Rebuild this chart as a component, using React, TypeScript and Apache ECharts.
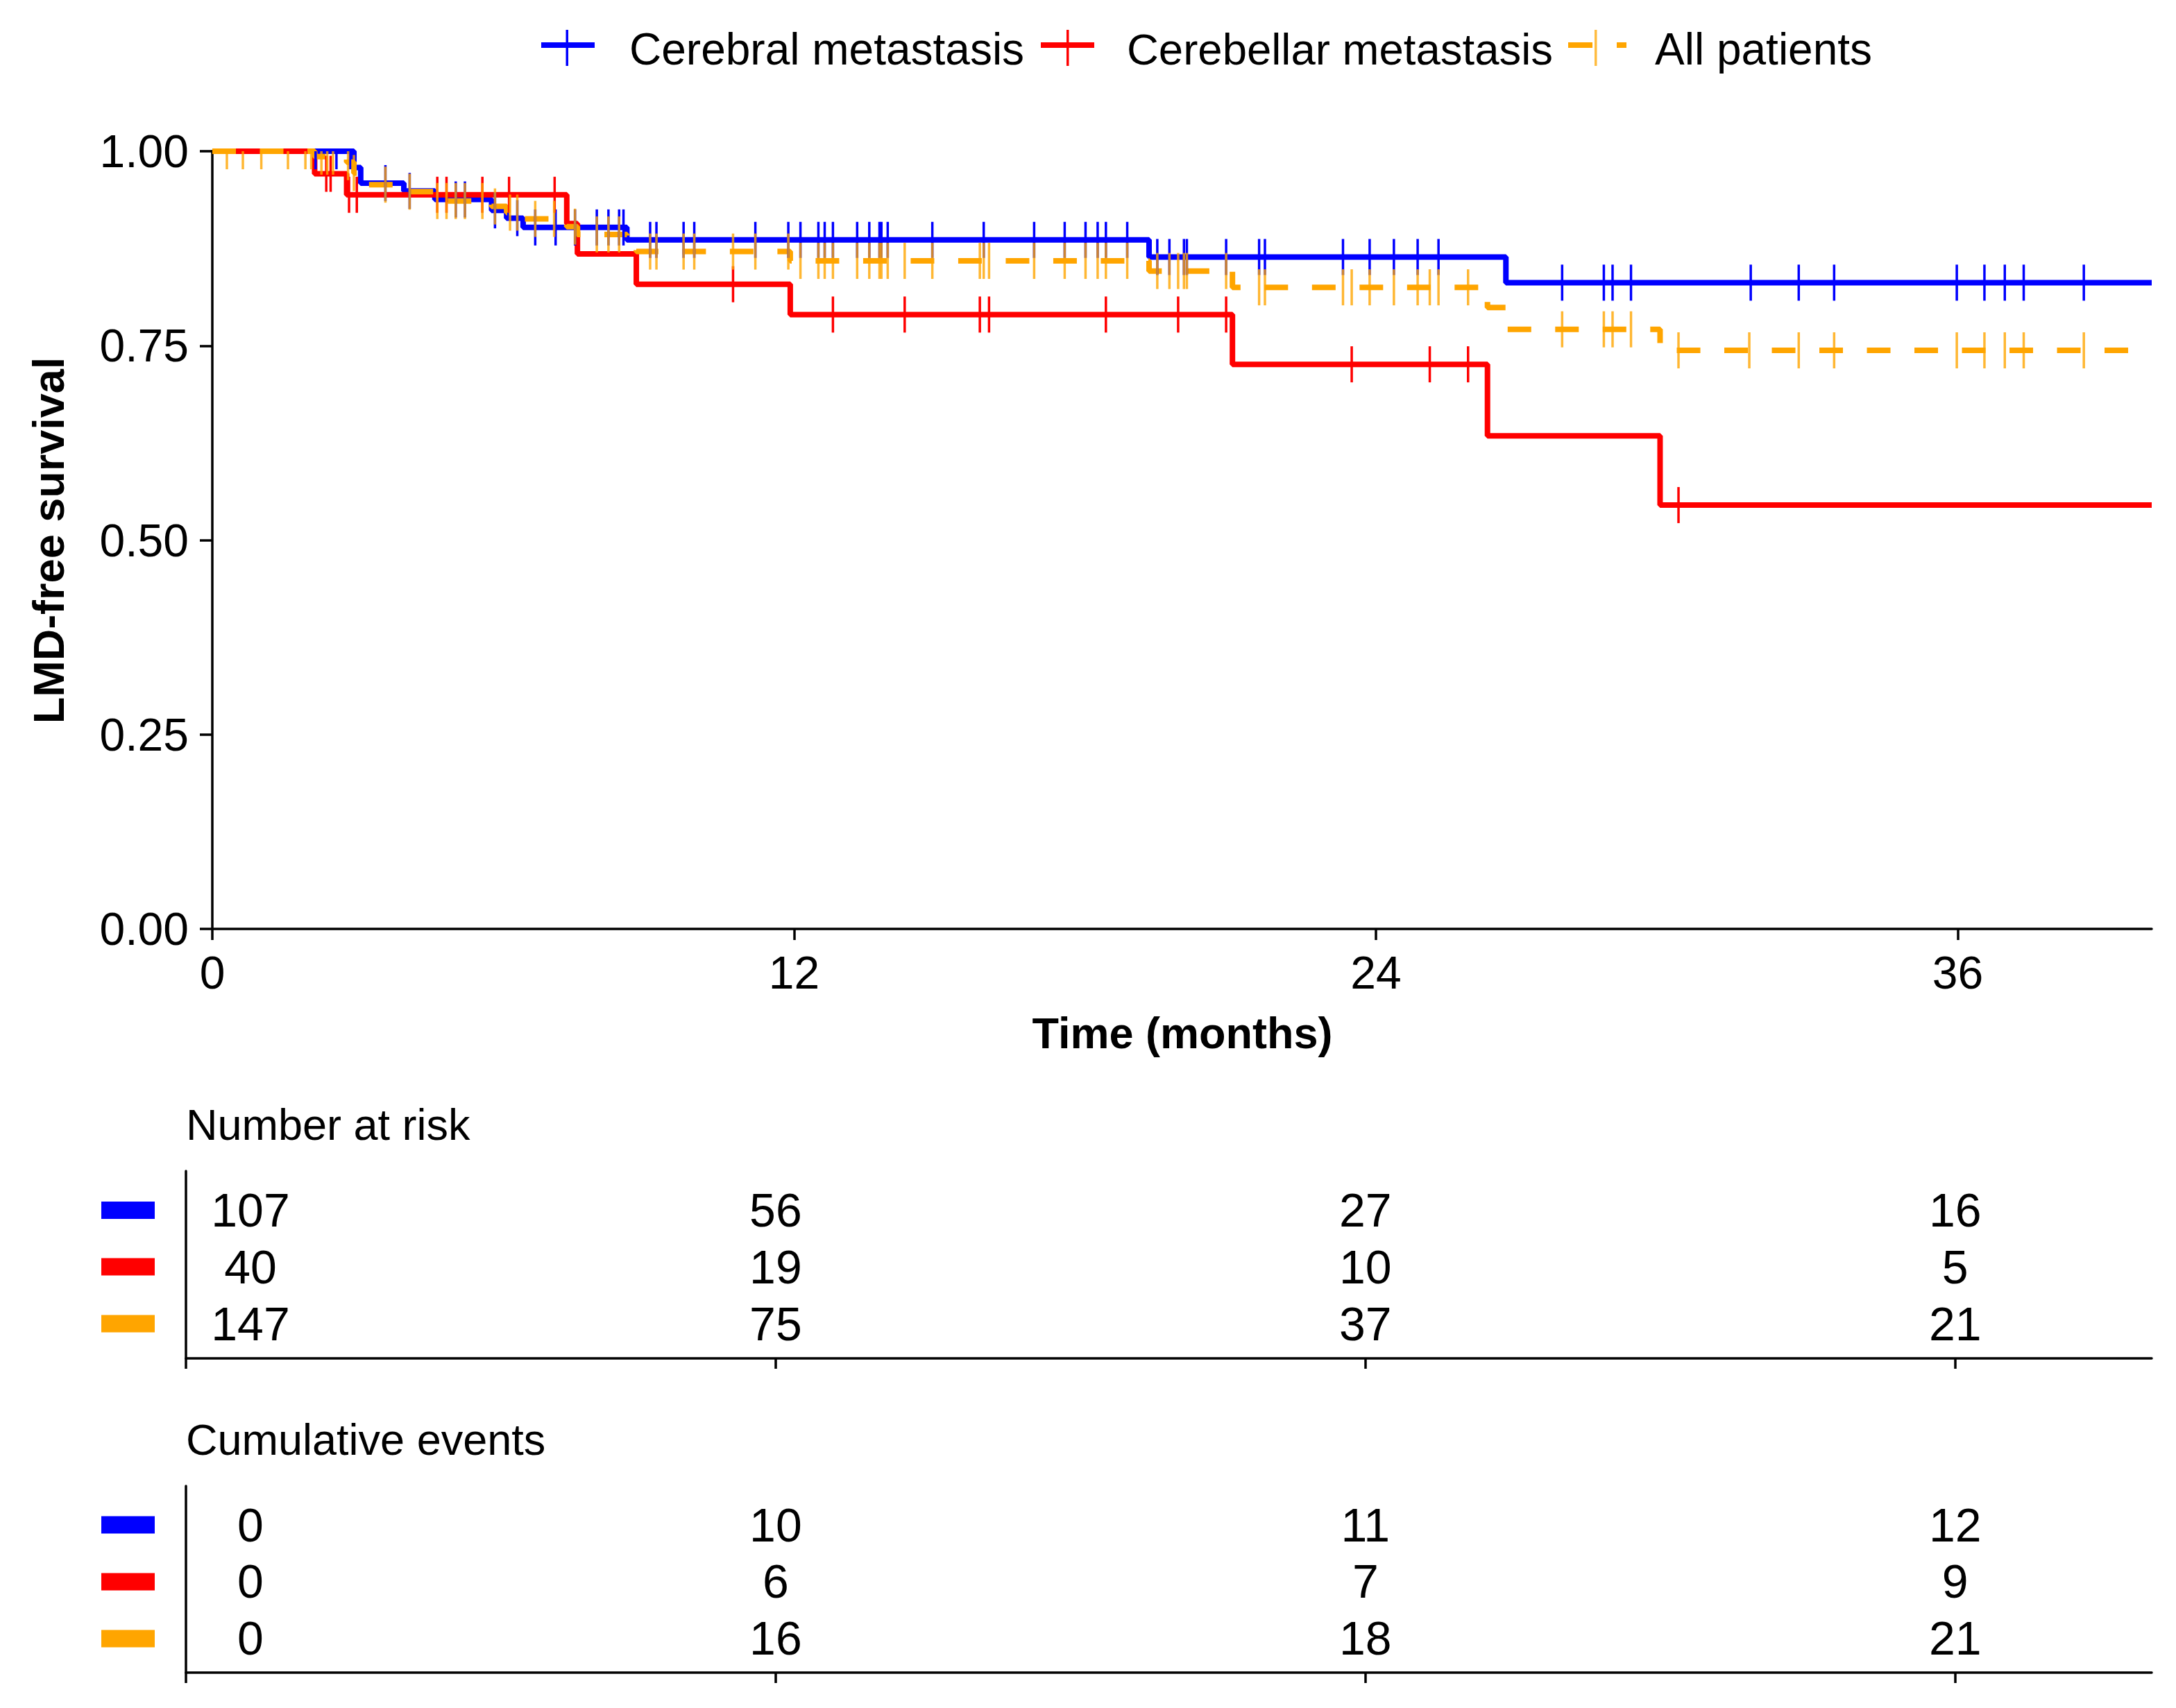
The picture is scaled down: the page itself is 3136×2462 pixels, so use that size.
import React, { useEffect, useRef } from 'react';
import * as echarts from 'echarts';

// ---------- data ----------
const xTickValues = [0, 12, 24, 36];

// Kaplan-Meier step points (time in months, survival)
const cerebralTimes = [0, 2.92, 3.06, 3.95, 4.59, 5.76, 6.07, 6.41, 8.55, 19.32, 26.68, 40];
const cerebralSurv = [1, 0.979, 0.959, 0.949, 0.938, 0.924, 0.914, 0.902, 0.886, 0.864, 0.831, 0.831];

const cerebellarTimes = [0, 2.11, 2.77, 7.31, 7.53, 8.745, 11.92, 21.04, 26.3, 29.86, 40];
const cerebellarSurv = [1, 0.971, 0.944, 0.907, 0.868, 0.829, 0.79, 0.726, 0.634, 0.545, 0.545];

const allTimes = [0, 2.11, 2.77, 2.92, 3.06, 3.95, 4.59, 5.76, 6.07, 6.41, 7.31, 7.53, 8.55, 8.745, 11.92, 19.32, 21.04, 26.3, 26.68, 29.86, 40];
const allSurv = [1, 0.993, 0.986, 0.972, 0.957, 0.948, 0.936, 0.929, 0.921, 0.913, 0.903, 0.893, 0.88, 0.871, 0.859, 0.846, 0.825, 0.799, 0.771, 0.744, 0.744];

// censoring times
const cerebralCensor = [2.13, 2.56, 2.84, 3.57, 4.07, 5.02, 5.21, 5.83, 6.29, 6.66, 7.08, 7.48, 7.93, 8.17, 8.39, 8.48, 9.03, 9.16, 9.72, 9.94, 11.2, 11.88, 12.13, 12.5, 12.63, 12.8, 13.3, 13.55, 13.76, 13.8, 13.93, 14.85, 15.91, 16.95, 17.58, 18.01, 18.26, 18.43, 18.87, 19.49, 19.74, 20.04, 20.1, 20.91, 21.59, 21.71, 23.32, 23.87, 24.37, 24.86, 25.29, 27.84, 28.7, 28.88, 29.26, 31.73, 32.72, 33.45, 35.98, 36.55, 36.97, 37.36, 38.6];
const cerebellarCensor = [2.35, 2.44, 2.82, 2.98, 4.64, 4.83, 5.57, 6.12, 7.06, 10.74, 12.8, 14.28, 15.83, 16.02, 18.43, 19.92, 20.91, 23.5, 25.11, 25.9, 30.24];
const allCensor = [0.3, 0.63, 1.01, 1.56, 1.92, 2.04, 2.25, 2.37, 2.49, 2.8, 2.92, 3.57, 4.07, 4.64, 4.83, 5.02, 5.21, 5.57, 5.83, 6.14, 6.29, 6.66, 7.05, 7.48, 7.93, 8.17, 8.39, 9.03, 9.16, 9.72, 9.94, 10.74, 11.2, 11.88, 12.13, 12.5, 12.63, 12.8, 13.3, 13.55, 13.76, 13.8, 13.93, 14.28, 14.85, 15.83, 15.91, 16.02, 16.95, 17.58, 18.01, 18.26, 18.43, 18.87, 19.49, 19.74, 19.92, 20.04, 20.1, 20.91, 21.59, 21.71, 23.32, 23.5, 23.87, 24.37, 24.86, 25.11, 25.29, 25.9, 27.84, 28.7, 28.88, 29.26, 30.24, 31.7, 32.72, 33.45, 35.98, 36.55, 36.97, 37.36, 38.6];

// risk table
const tableTimes = [0, 12, 24, 36];
const atRiskCerebral = [107, 56, 27, 16];
const atRiskCerebellar = [40, 19, 10, 5];
const atRiskAll = [147, 75, 37, 21];
const eventsCerebral = [0, 10, 11, 12];
const eventsCerebellar = [0, 6, 7, 9];
const eventsAll = [0, 16, 18, 21];

const groupNames = ['Cerebral metastasis', 'Cerebellar metastasis', 'All patients'];
const BLUE = '#0000FF';
const RED = '#FF0000';
const ORANGE = '#FFA500';
const FONT = '"Liberation Sans", Arial, Helvetica, sans-serif';

function stepAt(ts: number[], ss: number[], t: number) {
  let v = ss[0];
  for (let i = 0; i < ts.length; i++) {
    if (ts[i] <= t) v = ss[i];
  }
  return v;
}

function censorSeries(name: string, times: number[], ts: number[], ss: number[], color: string, opacity: number) {
  return {
    type: 'custom',
    name,
    xAxisIndex: 0,
    yAxisIndex: 0,
    data: times.map((t) => [t, stepAt(ts, ss, t)]),
    encode: { x: 0, y: 1 },
    renderItem: (params: any, api: any) => {
      const p = api.coord([api.value(0), api.value(1)]);
      const w = 3.5;
      const h = 52;
      const cs = params.coordSys;
      const shape = echarts.graphic.clipRectByRect(
        { x: p[0] - w / 2, y: p[1] - h / 2, width: w, height: h },
        { x: cs.x, y: cs.y, width: cs.width, height: cs.height }
      );
      if (!shape) return null;
      return { type: 'rect', shape, style: { fill: color, opacity } };
    },
    z: 3,
  };
}

function tableSeries(gridIdx: number, row: number, values: number[]) {
  return {
    type: 'scatter',
    xAxisIndex: gridIdx,
    yAxisIndex: gridIdx,
    symbolSize: 0,
    silent: true,
    itemStyle: { opacity: 1 },
    data: tableTimes.map((t, i) => ({
      value: [t, row, values[i]],
      label: i === 0 ? { offset: [93, 0] } : undefined,
    })),
    label: {
      show: true,
      position: 'inside',
      formatter: (p: any) => String(p.value[2]),
      fontSize: 68,
      color: '#000',
      opacity: 1,
      textBorderWidth: 0,
      fontFamily: FONT,
    },
  };
}

const MAIN = { left: 306, top: 218, width: 2795, height: 1121 };
const TAB1 = { left: 268, top: 1688, width: 2833, height: 270 };
const TAB2 = { left: 268, top: 2142, width: 2833, height: 269 };

function tableXAxis(gridIndex: number) {
  return {
    type: 'value',
    gridIndex,
    min: 0,
    max: 40,
    axisLine: { show: true, lineStyle: { color: '#000', width: 3.5 } },
    axisTick: { show: true, length: 15, lineStyle: { color: '#000', width: 3.5 }, customValues: xTickValues },
    axisLabel: { show: false },
    splitLine: { show: false },
  };
}
function tableYAxis(gridIndex: number) {
  return {
    type: 'value',
    gridIndex,
    min: 0.317,
    max: 3.61,
    inverse: true,
    axisLine: { show: true, onZero: false, lineStyle: { color: '#000', width: 3.5 } },
    axisTick: { show: false },
    axisLabel: { show: false },
    splitLine: { show: false },
  };
}

function legendGraphics() {
  const els: any[] = [];
  const cy = 65;
  els.push({ type: 'rect', shape: { x: 780, y: cy - 4, width: 77, height: 8 }, style: { fill: BLUE } });
  els.push({ type: 'rect', shape: { x: 815.5, y: cy - 22, width: 3.5, height: 52 }, style: { fill: BLUE } });
  els.push({ type: 'text', x: 907, y: 71, style: { text: groupNames[0], fontSize: 64, fontFamily: FONT, fill: '#000', textAlign: 'left', textVerticalAlign: 'middle' } });
  els.push({ type: 'rect', shape: { x: 1500, y: cy - 4, width: 77, height: 8 }, style: { fill: RED } });
  els.push({ type: 'rect', shape: { x: 1537, y: cy - 22, width: 3.5, height: 52 }, style: { fill: RED } });
  els.push({ type: 'text', x: 1624, y: 71, style: { text: groupNames[1], fontSize: 63.5, fontFamily: FONT, fill: '#000', textAlign: 'left', textVerticalAlign: 'middle' } });
  els.push({ type: 'rect', shape: { x: 2260, y: cy - 4, width: 35, height: 8 }, style: { fill: ORANGE } });
  els.push({ type: 'rect', shape: { x: 2330, y: cy - 4, width: 14, height: 8 }, style: { fill: ORANGE } });
  els.push({ type: 'rect', shape: { x: 2298, y: cy - 22, width: 3.5, height: 52 }, style: { fill: ORANGE, opacity: 0.75 } });
  els.push({ type: 'text', x: 2385, y: 71, style: { text: groupNames[2], fontSize: 64, fontFamily: FONT, fill: '#000', textAlign: 'left', textVerticalAlign: 'middle' } });
  return els;
}

function tableKeyGraphics() {
  const els: any[] = [];
  const colors = [BLUE, RED, ORANGE];
  const rows1 = [1744.5, 1826, 1908];
  const rows2 = [2198, 2280, 2362];
  [rows1, rows2].forEach((rows) => {
    rows.forEach((cy, i) => {
      els.push({ type: 'rect', shape: { x: 146, y: cy - 12.5, width: 77, height: 25 }, style: { fill: colors[i] } });
    });
  });
  els.push({ type: 'text', x: 268, y: 1621, style: { text: 'Number at risk', fontSize: 63, fontFamily: FONT, fill: '#000', textAlign: 'left', textVerticalAlign: 'middle' } });
  els.push({ type: 'text', x: 268, y: 2075, style: { text: 'Cumulative events', fontSize: 63, fontFamily: FONT, fill: '#000', textAlign: 'left', textVerticalAlign: 'middle' } });
  els.push({ type: 'text', x: 1704, y: 1489, style: { text: 'Time (months)', fontSize: 63, fontWeight: 'bold', fontFamily: FONT, fill: '#000', textAlign: 'center', textVerticalAlign: 'middle' } });
  els.push({ type: 'text', x: 70, y: 779, rotation: Math.PI / 2, style: { text: 'LMD-free survival', fontSize: 63, fontWeight: 'bold', fontFamily: FONT, fill: '#000', textAlign: 'center', textVerticalAlign: 'middle' } });
  return els;
}

export default function App() {
  const ref = useRef<HTMLDivElement>(null);
  useEffect(() => {
    document.body.style.margin = '0';
    const chart = echarts.init(ref.current as HTMLDivElement, null, { renderer: 'svg' });
    const lineData = (ts: number[], ss: number[]) => ts.map((t, i) => [t, ss[i]]);
    const option: any = {
      animation: false,
      backgroundColor: '#fff',
      grid: [
        { ...MAIN, containLabel: false },
        { ...TAB1, containLabel: false },
        { ...TAB2, containLabel: false },
      ],
      xAxis: [
        {
          type: 'value',
          gridIndex: 0,
          min: 0,
          max: 40,
          axisLine: { show: true, onZero: false, lineStyle: { color: '#000', width: 3.5 } },
          axisTick: { show: true, length: 16, lineStyle: { color: '#000', width: 3.5 }, customValues: xTickValues },
          axisLabel: { show: true, customValues: xTickValues, fontSize: 66, color: '#000', fontFamily: FONT, margin: 30 },
          splitLine: { show: false },
        },
        tableXAxis(1),
        tableXAxis(2),
      ],
      yAxis: [
        {
          type: 'value',
          gridIndex: 0,
          min: 0,
          max: 1,
          interval: 0.25,
          axisLine: { show: true, onZero: false, lineStyle: { color: '#000', width: 3.5 } },
          axisTick: { show: true, length: 18, lineStyle: { color: '#000', width: 3.5 } },
          axisLabel: { show: true, fontSize: 66, color: '#000', fontFamily: FONT, margin: 34, formatter: (v: number) => v.toFixed(2) },
          splitLine: { show: false },
        },
        tableYAxis(1),
        tableYAxis(2),
      ],
      graphic: [...legendGraphics(), ...tableKeyGraphics()],
      series: [
        {
          type: 'line',
          name: groupNames[0],
          xAxisIndex: 0,
          yAxisIndex: 0,
          step: 'end',
          symbol: 'none',
          data: lineData(cerebralTimes, cerebralSurv),
          lineStyle: { color: BLUE, width: 8 },
          z: 2,
        },
        censorSeries('cc', cerebralCensor, cerebralTimes, cerebralSurv, BLUE, 1),
        {
          type: 'line',
          name: groupNames[1],
          xAxisIndex: 0,
          yAxisIndex: 0,
          step: 'end',
          symbol: 'none',
          data: lineData(cerebellarTimes, cerebellarSurv),
          lineStyle: { color: RED, width: 8 },
          z: 2,
        },
        censorSeries('rc', cerebellarCensor, cerebellarTimes, cerebellarSurv, RED, 1),
        {
          type: 'line',
          name: groupNames[2],
          xAxisIndex: 0,
          yAxisIndex: 0,
          step: 'end',
          symbol: 'none',
          data: lineData(allTimes, allSurv),
          lineStyle: { color: ORANGE, width: 8, type: [34, 34.5] },
          z: 2,
        },
        censorSeries('ac', allCensor, allTimes, allSurv, ORANGE, 0.8),
        tableSeries(1, 1, atRiskCerebral),
        tableSeries(1, 2, atRiskCerebellar),
        tableSeries(1, 3, atRiskAll),
        tableSeries(2, 1, eventsCerebral),
        tableSeries(2, 2, eventsCerebellar),
        tableSeries(2, 3, eventsAll),
      ],
    };
    chart.setOption(option);
    return () => chart.dispose();
  }, []);
  return <div ref={ref} style={{ width: 3136, height: 2462 }} />;
}
